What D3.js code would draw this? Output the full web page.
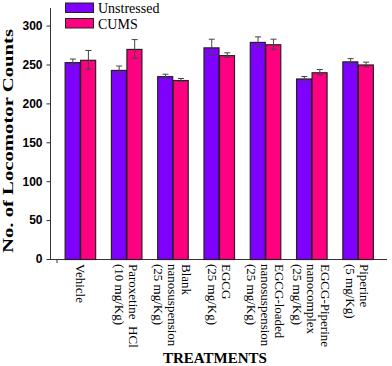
<!DOCTYPE html>
<html><head><meta charset="utf-8">
<script src="https://cdn.jsdelivr.net/npm/d3@7"></script>
<style>body{margin:0;background:#fff}svg{display:block}</style>
</head><body><svg id="c" width="392" height="366"></svg>
<script>
const categories = [
  ["Vehicle"],
  ["Paroxetine  HCl", "(10 mg/Kg)"],
  ["Blank", "nanosuspension", "(25 mg/Kg)"],
  ["EGCG", "(25 mg/Kg)"],
  ["EGCG-loaded", "nanosuspension", "(25 mg/Kg)"],
  ["EGCG-Piperine", "nanocomplex", "(25 mg/Kg)"],
  ["Piperine", "(5 mg/Kg)"]
];
const seriesNames = ["Unstressed", "CUMS"];
const unstressed = [253, 243, 235, 272, 279, 232, 254];
const unstressedErr = [4, 5, 2.5, 10.5, 6.5, 2.5, 3.5];
const cums = [256, 270, 230, 262, 276, 240, 250];
const cumsErr = [12, 12, 2, 3, 6.5, 3.5, 3];
const yTicks = [0, 50, 100, 150, 200, 250, 300];
const colors = ["#7F00FF", "#FF0080"];

const svg = d3.select("#c");
const x0 = d3.scaleBand().domain(d3.range(categories.length)).range([57, 381]).paddingInner(0.33).paddingOuter(0.165);
const x1 = d3.scaleBand().domain([0, 1]).range([0, x0.bandwidth()]);
const y = d3.scaleLinear().domain([0, 322.6]).range([259, 8]);

// axes
const yAxis = d3.axisLeft(y).tickValues(yTicks).tickSize(4).tickPadding(4);
const gy = svg.append("g").attr("transform", "translate(50.5,0)").call(yAxis);
gy.select(".domain").remove();
gy.selectAll("line").attr("stroke", "#333");
gy.selectAll("text").attr("font-family", "Liberation Sans, Arial, sans-serif").attr("font-weight", "bold").attr("font-size", 12).attr("fill", "#000");
svg.append("line").attr("x1", 50.5).attr("x2", 50.5).attr("y1", y.range()[1]).attr("y2", y(0)).attr("stroke", "#333");
svg.append("line").attr("x1", 50).attr("x2", 387).attr("y1", y(0) + 0.5).attr("y2", y(0) + 0.5).attr("stroke", "#333");
svg.append("line").attr("x1", x0.range()[0]).attr("x2", x0.range()[0]).attr("y1", y(0)).attr("y2", y(0) + 4).attr("stroke", "#333");

// bars
const rows = categories.map((c, i) => ({i, vals: [unstressed[i], cums[i]], errs: [unstressedErr[i], cumsErr[i]]}));
const g = svg.selectAll("g.grp").data(rows).join("g").attr("class", "grp")
  .attr("transform", d => `translate(${x0(d.i)},0)`);
const items = g.selectAll("g.b").data(d => d.vals.map((v, k) => ({v, k, e: d.errs[k]}))).join("g").attr("class", "b");
items.append("rect")
  .attr("x", d => x1(d.k) + 0.5).attr("y", d => y(d.v) + 0.5)
  .attr("width", x1.bandwidth() - 0.5).attr("height", d => y(0) - y(d.v))
  .attr("fill", d => colors[d.k]).attr("stroke", "#222").attr("stroke-width", 1.2);
const cx = d => x1(d.k) + x1.bandwidth() / 2 + 0.5;
items.append("line").attr("x1", cx).attr("x2", cx).attr("y1", d => y(d.v + d.e)).attr("y2", d => y(d.v - d.e)).attr("stroke", "#444");
items.append("line").attr("x1", d => cx(d) - 3).attr("x2", d => cx(d) + 3).attr("y1", d => y(d.v + d.e)).attr("y2", d => y(d.v + d.e)).attr("stroke", "#444");
items.append("line").attr("x1", d => cx(d) - 3).attr("x2", d => cx(d) + 3).attr("y1", d => y(d.v - d.e)).attr("y2", d => y(d.v - d.e)).attr("stroke", "#444");

// x labels
const lh = 14;
categories.forEach((lines, i) => {
  const c = x0(i) + x0.bandwidth() / 2;
  const t = svg.append("text").attr("transform", `translate(${c},264) rotate(90)`)
    .attr("font-family", "Liberation Serif, Times New Roman, serif").attr("font-size", 13).attr("fill", "#000");
  const y0 = 4.5 - (lines.length - 1) * lh / 2;
  lines.forEach((ln, j) => {
    t.append("tspan").attr("x", 0).attr("y", y0 + j * lh).attr("xml:space", "preserve").text(ln);
  });
});

// axis titles
svg.append("text").attr("transform", "translate(13,141) rotate(-90)").attr("text-anchor", "middle")
  .attr("font-family", "Liberation Serif, Times New Roman, serif").attr("font-weight", "bold").attr("font-size", 15.5)
  .attr("textLength", 224).attr("lengthAdjust", "spacingAndGlyphs").text("No. of Locomotor Counts");
svg.append("text").attr("x", 215).attr("y", 363).attr("text-anchor", "middle")
  .attr("font-family", "Liberation Serif, Times New Roman, serif").attr("font-weight", "bold").attr("font-size", 15)
  .text("TREATMENTS");

// legend
seriesNames.forEach((n, k) => {
  const ly = 2.5 + k * 15.5;
  svg.append("rect").attr("x", 65.5).attr("y", ly + 0.5).attr("width", 28).attr("height", 9.5)
    .attr("fill", colors[k]).attr("stroke", "#222").attr("stroke-width", 1);
  svg.append("text").attr("x", 98).attr("y", ly + 10.5).attr("font-family", "Liberation Serif, Times New Roman, serif")
    .attr("font-size", 14).attr("fill", "#000").text(n);
});
</script></body></html>
